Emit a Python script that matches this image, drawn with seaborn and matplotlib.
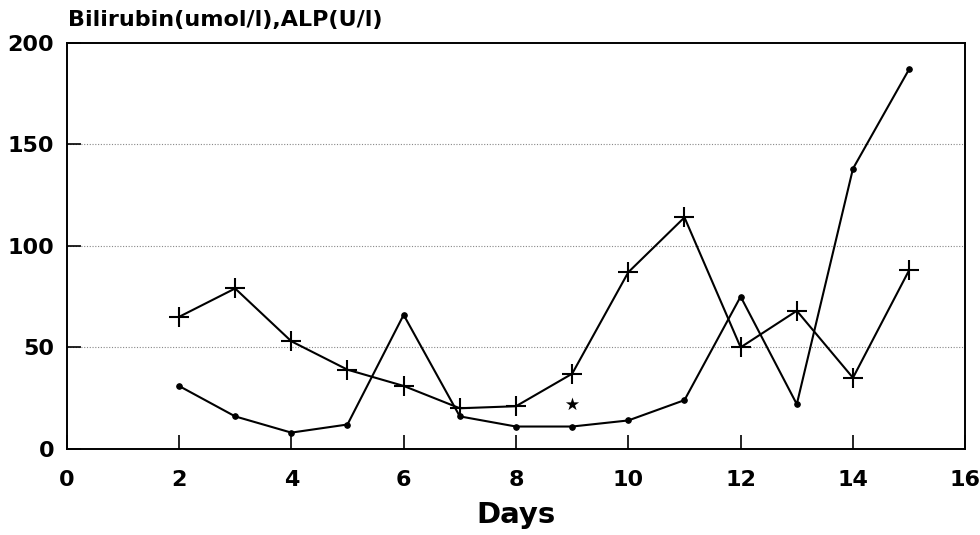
import matplotlib
matplotlib.use("Agg")
import matplotlib.pyplot as plt
import seaborn as sns
import pandas as pd

days = [2, 3, 4, 5, 6, 7, 8, 9, 10, 11, 12, 13, 14, 15]
series_plus = [65, 79, 53, 39, 31, 20, 21, 37, 87, 114, 50, 68, 35, 88]
series_dot = [31, 16, 8, 12, 66, 16, 11, 11, 14, 24, 75, 22, 138, 187]
star_day = [9]
star_val = [22]
x_ticks = [0, 2, 4, 6, 8, 10, 12, 14, 16]
y_ticks = [0, 50, 100, 150, 200]

sns.set_style("white")
plt.rcParams['font.family'] = ['DejaVu Sans']
plt.rcParams['font.weight'] = 'bold'
plt.rcParams['text.color'] = 'black'
plt.rcParams['axes.labelcolor'] = 'black'
plt.rcParams['xtick.color'] = 'black'
plt.rcParams['ytick.color'] = 'black'

df_plus = pd.DataFrame({"Days": days, "val": series_plus})
df_dot = pd.DataFrame({"Days": days, "val": series_dot})
df_star = pd.DataFrame({"Days": star_day, "val": star_val})

fig = plt.figure(figsize=(9.8, 5.35), dpi=100)
ax = fig.add_axes([0.068, 0.161, 0.917, 0.759])

for yv in y_ticks[1:-1]:
    ax.axhline(yv, color="#888888", lw=0.8, ls=(0, (1, 1.5)), zorder=0)

sns.lineplot(data=df_plus, x="Days", y="val", ax=ax, color="black", lw=1.5,
             marker="+", markersize=14, markeredgewidth=1.5,
             markeredgecolor="black")
sns.lineplot(data=df_dot, x="Days", y="val", ax=ax, color="black", lw=1.5,
             marker="o", markersize=4, markeredgecolor="black")
sns.scatterplot(data=df_star, x="Days", y="val", ax=ax, color="black",
                marker="*", s=100, linewidth=0)

ax.set_xlim(0, 16)
ax.set_ylim(0, 200)
ax.set_xticks(x_ticks)
ax.set_yticks(y_ticks)
ax.set_xticklabels([str(t) for t in x_ticks], fontsize=16, fontweight="bold")
ax.set_yticklabels([str(t) for t in y_ticks], fontsize=16, fontweight="bold")
ax.tick_params(axis="both", direction="in", length=10, width=1.2,
               color="black", labelcolor="black", bottom=True, left=True)
ax.tick_params(axis="x", pad=15)
ax.tick_params(axis="y", pad=9)
for s in ax.spines.values():
    s.set_color("black")
    s.set_linewidth(1.4)
ax.set_xlabel("Days", fontsize=21, fontweight="bold", labelpad=8, color="black")
ax.set_ylabel("")
fig.text(0.069, 0.943, "Bilirubin(umol/l),ALP(U/l)", fontsize=16, fontweight="bold",
         ha="left", va="bottom", color="black")

fig.savefig("out.png", dpi=100)
